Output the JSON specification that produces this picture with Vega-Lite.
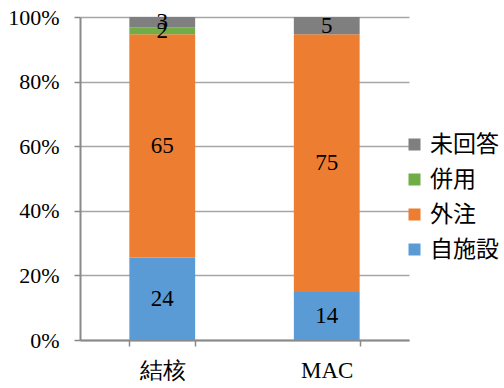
{
  "$schema": "https://vega.github.io/schema/vega-lite/v6.json",
  "width": 329,
  "height": 323,
  "autosize": {"type": "none"},
  "padding": {"left": 80, "top": 17, "right": 95, "bottom": 48},
  "background": "white",
  "config": {
    "view": {"stroke": null},
    "font": "Liberation Serif"
  },
  "data": {
    "values": [
      {"group": "結核", "category": "自施設", "value": 24, "ord": 1},
      {"group": "結核", "category": "外注", "value": 65, "ord": 2},
      {"group": "結核", "category": "併用", "value": 2, "ord": 3},
      {"group": "結核", "category": "未回答", "value": 3, "ord": 4},
      {"group": "MAC", "category": "自施設", "value": 14, "ord": 1},
      {"group": "MAC", "category": "外注", "value": 75, "ord": 2},
      {"group": "MAC", "category": "未回答", "value": 5, "ord": 4}
    ]
  },
  "transform": [
    {"stack": "value", "groupby": ["group"], "sort": [{"field": "ord", "order": "ascending"}], "offset": "normalize", "as": ["y0", "y1"]},
    {"calculate": "(datum.y0 + datum.y1) / 2", "as": "ymid"}
  ],
  "encoding": {
    "x": {
      "field": "group",
      "type": "nominal",
      "sort": ["結核", "MAC"],
      "scale": {"paddingInner": 0.6, "paddingOuter": 0.3},
      "axis": {
        "title": null,
        "labelAngle": 0,
        "labelFont": "Liberation Serif",
        "labelFontSize": 23,
        "labelColor": "#000000",
        "labelPadding": 13,
        "domainColor": "#898989",
        "domainWidth": 2,
        "tickColor": "#898989",
        "tickWidth": 1.5,
        "tickSize": 6,
        "tickBand": "extent"
      }
    }
  },
  "layer": [
    {
      "mark": {"type": "bar"},
      "encoding": {
        "y": {
          "field": "y0",
          "type": "quantitative",
          "scale": {"domain": [0, 1]},
          "axis": {
            "title": null,
            "format": ".0%",
            "values": [0, 0.2, 0.4, 0.6, 0.8, 1],
            "labelFont": "Liberation Serif",
            "labelFontSize": 22,
            "labelColor": "#000000",
            "labelPadding": 15,
            "domainColor": "#898989",
            "domainWidth": 2,
            "tickColor": "#898989",
            "tickWidth": 1.5,
            "tickSize": 6,
            "grid": true,
            "gridColor": "#a6a6a6",
            "gridWidth": 1.5
          }
        },
        "y2": {"field": "y1"},
        "color": {
          "field": "category",
          "type": "nominal",
          "scale": {
            "domain": ["未回答", "併用", "外注", "自施設"],
            "range": ["#7f7f7f", "#70ad47", "#ed7d31", "#5b9bd5"]
          },
          "legend": {
            "title": null,
            "orient": "none",
            "legendX": 323,
            "legendY": 116,
            "symbolType": "square",
            "symbolSize": 144,
            "symbolStrokeWidth": 0,
            "labelFont": "Noto Sans CJK JP",
            "labelFontSize": 23,
            "labelColor": "#000000",
            "labelOffset": 4,
            "rowPadding": 11
          }
        }
      }
    },
    {
      "mark": {"type": "text", "font": "Liberation Serif", "fontSize": 23, "color": "#000000", "baseline": "middle"},
      "encoding": {
        "y": {"field": "ymid", "type": "quantitative"},
        "text": {"field": "value", "type": "quantitative"}
      }
    }
  ]
}
